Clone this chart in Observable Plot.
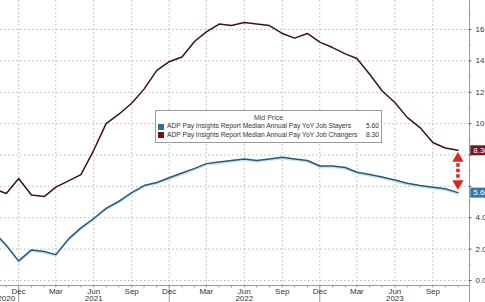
<!DOCTYPE html>
<html>
<head>
<meta charset="utf-8">
<script src="https://cdn.jsdelivr.net/npm/d3@7"></script>
<script src="https://cdn.jsdelivr.net/npm/@observablehq/plot@0.6"></script>
<style>
  html, body { margin: 0; padding: 0; background: #fff; }
  #wrap { position: relative; width: 485px; height: 302px; overflow: hidden; font-family: "Liberation Sans", Arial, sans-serif; }
  #legend { position: absolute; left: 155px; top: 110px; width: 225px; height: 31px; border: 1px solid #9a9a9a; background: #fff; font-size: 6.7px; color: #333; }
  #legend .title { text-align: center; padding-top: 2px; height: 9px; line-height: 9px; font-size: 7px; color: #444; }
  #legend .row { position: relative; height: 8.5px; line-height: 8.5px; padding-left: 11px; white-space: nowrap; }
  #legend .sw { position: absolute; left: 2px; top: 1.5px; width: 6px; height: 6px; }
  #legend .val { position: absolute; right: 2px; top: 0; background: #fff; padding-left: 2px; }
</style>
</head>
<body>
<div id="wrap"></div>
<script>
// ---- data ----
const months = [
  "2020-10","2020-11","2020-12",
  "2021-01","2021-02","2021-03","2021-04","2021-05","2021-06","2021-07","2021-08","2021-09","2021-10","2021-11","2021-12",
  "2022-01","2022-02","2022-03","2022-04","2022-05","2022-06","2022-07","2022-08","2022-09","2022-10","2022-11","2022-12",
  "2023-01","2023-02","2023-03","2023-04","2023-05","2023-06","2023-07","2023-08","2023-09","2023-10","2023-11"
];
const changers = [
  5.85, 5.55, 6.5,
  5.45, 5.35, 5.95, 6.35, 6.75, 8.3, 10.0, 10.6, 11.3, 12.2, 13.4, 13.95,
  14.25, 15.25, 15.85, 16.35, 16.25, 16.45, 16.35, 16.25, 15.75, 15.45, 15.75, 15.2,
  14.85, 14.45, 14.15, 13.15, 12.1, 11.35, 10.4, 9.75, 8.8, 8.45, 8.3
];
const stayers = [
  3.1, 2.25, 1.25,
  1.95, 1.85, 1.65, 2.65, 3.35, 3.95, 4.6, 5.05, 5.6, 6.05, 6.25, 6.55,
  6.85, 7.15, 7.45, 7.55, 7.65, 7.75, 7.65, 7.75, 7.85, 7.75, 7.65, 7.3,
  7.3, 7.2, 6.9, 6.75, 6.6, 6.4, 6.2, 6.05, 5.95, 5.85, 5.6
];
const seriesNames = ["ADP Pay Insights Report Median Annual Pay YoY Job Stayers", "ADP Pay Insights Report Median Annual Pay YoY Job Changers"];
const lastLabels = ["5.60", "8.30"];
const legendTitle = "Mid Price";
const yTicks = [0, 2, 4, 6, 8, 10, 12, 14, 16];
const yMinorTicks = [1, 3, 5, 7, 9, 11, 13, 15, 17];
const quarterTicks = ["2020-12","2021-03","2021-06","2021-09","2021-12","2022-03","2022-06","2022-09","2022-12","2023-03","2023-06","2023-09"];
const yearDividers = ["2020-12","2021-12","2022-12"];
const yearLabels = [["2020-11","2020"],["2021-06","2021"],["2022-06","2022"],["2023-06","2023"]];

// ---- build ----
const D = s => new Date(s + "-01T00:00:00Z");
const rows = months.map((m, i) => ({date: D(m), changers: changers[i], stayers: stayers[i]}));
const allMonths = d3.utcMonths(D("2020-10"), D("2024-01"));
const xDomain = [new Date("2020-10-18T00:00:00Z"), new Date("2023-11-29T00:00:00Z")];
const yDomain = [-0.32, 17.85];
const yBottom = -1.5;
const xEnd = xDomain[1];
const xTickEnd = new Date("2023-12-05T00:00:00Z");
const badgeX1 = new Date("2023-12-02T00:00:00Z");
const badgeX2 = new Date("2024-01-20T00:00:00Z");
const badgeTextX = new Date("2023-12-08T00:00:00Z");
const last = rows[rows.length - 1];
// tick labels hidden behind the last-value badges
const visibleYLabels = yTicks.filter(t => Math.abs(t - last.changers) > 0.6 && Math.abs(t - last.stayers) > 0.6);

const blue = "#2c5676", maroon = "#3f1119", red = "#e02420";
const fmtMonth = d3.utcFormat("%b");

const chart = Plot.plot({
  width: 485, height: 302,
  marginLeft: 0, marginRight: 16, marginTop: 0, marginBottom: 17,
  x: {type: "utc", domain: xDomain, axis: null},
  y: {domain: yDomain, axis: null},
  style: {fontFamily: "Liberation Sans, Arial, sans-serif", fontSize: "8px", color: "#333", background: "#fff", overflow: "visible"},
  marks: [
    Plot.ruleY(yTicks, {stroke: "#b8b8b8", strokeDasharray: "1.5,2.5"}),
    Plot.ruleX(quarterTicks.map(D), {stroke: "#b8b8b8", strokeDasharray: "1.5,2.5"}),
    // x axis
    Plot.ruleY([yDomain[0]], {stroke: "#9a9a9a"}),
    Plot.ruleX(allMonths.filter(d => d <= xEnd), {y1: yDomain[0], y2: yDomain[0] - 0.16, stroke: "#9a9a9a"}),
    Plot.ruleX(yearDividers.map(D), {y1: yDomain[0], y2: yBottom, stroke: "#9a9a9a"}),
    Plot.text(quarterTicks.map(D), {x: d => d, y: yDomain[0], dy: 5.5, text: d => fmtMonth(d), fill: "#333", fontSize: 8}),
    Plot.text(yearLabels, {x: d => D(d[0]), y: yDomain[0], dy: 13, text: d => d[1], fill: "#333", fontSize: 8}),
    // y axis (right)
    Plot.ruleX([xEnd], {y1: yDomain[1], y2: yBottom, stroke: "#9a9a9a"}),
    Plot.ruleY(yTicks, {x1: xEnd, x2: xTickEnd, stroke: "#555"}),
    Plot.ruleY(yMinorTicks, {x1: xEnd, x2: new Date("2023-12-03T00:00:00Z"), stroke: "#9a9a9a"}),
    Plot.text(visibleYLabels, {x: xEnd, y: d => d, dx: 6, textAnchor: "start", text: d => d.toFixed(1), fill: "#333", fontSize: 8}),
    // lines
    Plot.line(rows, {x: "date", y: "stayers", stroke: "#c4e6f2", strokeWidth: 1.8, dy: 1.3, clip: true}),
    Plot.line(rows, {x: "date", y: "stayers", stroke: blue, strokeWidth: 1.5, clip: true}),
    Plot.line(rows, {x: "date", y: "changers", stroke: maroon, strokeWidth: 1.5, clip: true}),
    // arrow between last values
    Plot.ruleX([last], {x: "date", y1: d => d.changers - 0.85, y2: d => d.stayers + 0.9, stroke: red, strokeWidth: 3.5, strokeDasharray: "3.5,2"}),
    Plot.dot([last], {x: "date", y: d => d.changers - 0.52, symbol: "triangle", r: 4.2, fill: red, stroke: "none"}),
    Plot.dot([last], {x: "date", y: d => d.stayers + 0.58, symbol: "triangle", rotate: 180, r: 4.2, fill: red, stroke: "none"}),
    // last value badges
    Plot.ruleY([last], {y: "changers", x1: badgeX1, x2: badgeX2, stroke: "#741824", strokeWidth: 10}),
    Plot.ruleY([last], {y: "stayers", x1: badgeX1, x2: badgeX2, stroke: "#3574aa", strokeWidth: 10}),
    Plot.text([last], {x: badgeTextX, y: "changers", text: () => lastLabels[1], textAnchor: "start", fill: "#fff", fontSize: 8}),
    Plot.text([last], {x: badgeTextX, y: "stayers", text: () => lastLabels[0], textAnchor: "start", fill: "#fff", fontSize: 8})
  ]
});

const wrap = document.getElementById("wrap");
wrap.appendChild(chart);

const legend = document.createElement("div");
legend.id = "legend";
legend.innerHTML = `<div class="title">${legendTitle}</div>` +
  [[seriesNames[0], lastLabels[0], "#2e6b9e"], [seriesNames[1], lastLabels[1], "#6e1420"]].map(([n, v, c]) =>
    `<div class="row"><span class="sw" style="background:${c}"></span>${n}<span class="val">${v}</span></div>`).join("");
wrap.appendChild(legend);
</script>
</body>
</html>
